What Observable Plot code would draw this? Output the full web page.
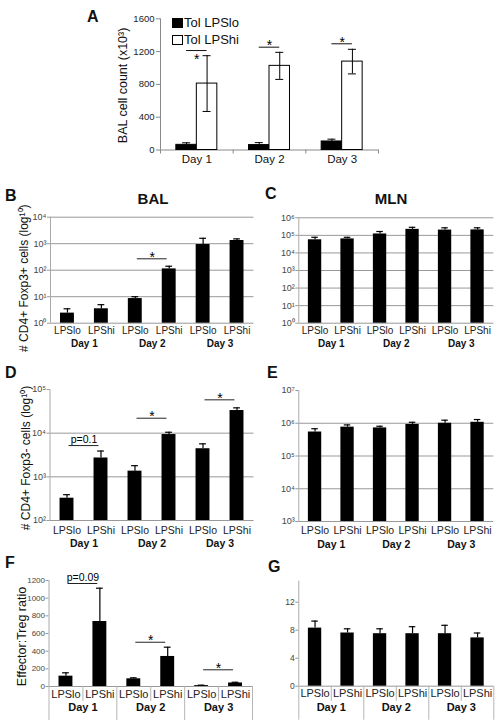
<!DOCTYPE html>
<html><head><meta charset="utf-8">
<script src="https://cdn.jsdelivr.net/npm/d3@7"></script>
<script src="https://cdn.jsdelivr.net/npm/@observablehq/plot@0.6"></script>
<style>
html,body{margin:0;padding:0;background:#fff;}
#fig{position:relative;width:504px;height:721px;overflow:hidden;font-family:"Liberation Sans",Arial,sans-serif;color:#111;background:#fff;}
.abs{position:absolute;white-space:nowrap;}
.letter{font-weight:bold;font-size:16px;line-height:16px;}
.title{font-weight:bold;font-size:15px;line-height:15px;text-align:center;width:100px;}
.leg{font-size:13px;line-height:13px;}
.sq{position:absolute;width:9px;height:8px;border:1px solid #000;}
.plotbox{position:absolute;}
.plotbox svg{overflow:visible;}
</style></head><body><div id="fig"></div>
<script>
// ---------- data ----------
const days = ["Day 1", "Day 2", "Day 3"];
const groups = ["LPSlo", "LPShi"];
const legendA = ["Tol LPSlo", "Tol LPShi"];

// Panel A: BAL cell count (x10^3)
const aTicks = [0, 400, 800, 1200, 1600];
const aLoMean = [63, 60, 104];
const aLoSem = [25, 30, 28];
const aHiMean = [810, 1026, 1078];
const aHiSem = [340, 165, 150];
const aSigLevel = [1213, 1254, 1295];
const aSigLabel = ["*", "*", "*"];

// Panel B: BAL CD4+ Foxp3+
const bTicks = [1, 10, 100, 1000, 10000];
const bGrid = [1, 10, 100, 1000, 10000];
const bMean = [2.4, 3.5, 8.5, 112, 930, 1320];
const bSem = [1.1, 1.5, 1.5, 29, 670, 200];
const bSig = [{from: 2, to: 3, level: 269, label: "*"}];

// Panel C: MLN CD4+ Foxp3+
const cTicks = [1, 10, 100, 1000, 10000, 100000, 1000000];
const cGrid = [1, 10, 100, 1000, 10000, 100000, 1000000];
const cMean = [56000, 63000, 120000, 220000, 200000, 205000];
const cSem = [21600, 14600, 46000, 68000, 69000, 64000];
const cSig = [];

// Panel D: BAL CD4+ Foxp3-
const dTicks = [100, 1000, 10000, 100000];
const dGrid = [100, 1000, 10000];
const dMean = [324, 2700, 1350, 9300, 4400, 33000];
const dSem = [66, 1200, 450, 1200, 1300, 5000];
const dSig = [
  {from: 0, to: 1, level: 5200, label: "p=0.1"},
  {from: 2, to: 3, level: 22000, label: "*"},
  {from: 4, to: 5, level: 58000, label: "*"}
];

// Panel E: MLN CD4+ Foxp3-
const eTicks = [1000, 10000, 100000, 1000000, 10000000];
const eGrid = [1000, 10000, 100000, 1000000];
const eMean = [540000, 760000, 720000, 920000, 1000000, 1070000];
const eSem = [140000, 130000, 90000, 150000, 240000, 230000];
const eSig = [];

// Panel F: BAL Effector:Treg ratio
const fTicks = [0, 200, 400, 600, 800, 1000, 1200];
const fGrid = [0];
const fMean = [117, 736, 87, 340, 10, 40];
const fSem = [38, 377, 11, 105, 5, 8];
const fSig = [
  {from: 0, to: 1, level: 1166, label: "p=0.09"},
  {from: 2, to: 3, level: 501, label: "*"},
  {from: 4, to: 5, level: 189, label: "*"}
];

// Panel G: MLN Effector:Treg ratio
const gTicks = [0, 4, 8, 12];
const gMax = 15;
const gGrid = [0];
const gMean = [8.3, 7.6, 7.5, 7.5, 7.5, 6.9];
const gSem = [1.0, 0.6, 0.7, 1.0, 1.2, 0.7];
const gSig = [];

// ---------- helpers ----------
const FONT = '"Liberation Sans", Arial, sans-serif';
const fig = document.getElementById("fig");
const SUP = "⁰¹²³⁴⁵⁶⁷⁸⁹";
const logFmt = v => "10" + String(Math.round(Math.log10(v))).split("").map(c => SUP[+c]).join("");
const numFmt = v => String(v);

function mount(node, left, top, w) {
  const d = document.createElement("div");
  d.className = "plotbox";
  d.style.left = left + "px"; d.style.top = top + "px"; d.style.width = w + "px";
  d.appendChild(node); fig.appendChild(d);
}
function html(cls, text, left, top, extra) {
  const d = document.createElement("div");
  d.className = "abs " + cls; d.textContent = text;
  d.style.left = left + "px"; d.style.top = top + "px";
  if (extra) Object.assign(d.style, extra);
  fig.appendChild(d);
}
const plotStyle = {fontFamily: FONT, background: "transparent", overflow: "visible", color: "#111"};

function catPanel(c) {
  const n = c.mean.length;
  const rows = c.mean.map((m, i) => ({i, cat: groups[i % 2], mean: m, top: m + c.sem[i]}));
  const base = c.ticks[0];
  const fw = c.width - c.ml - c.mr;
  const bw = 0.41, cap = 0.1, sigInset = 0.06;
  const seps = d3.range(n + 1);
  const marks = [
    Plot.ruleY(c.grid, {y: d => d, stroke: "#999"}),
    Plot.ruleY(c.ticks, {y: d => d, insetLeft: -3, insetRight: fw, stroke: "#999"}),
    Plot.text(c.ticks, {x: 0, y: d => d, text: c.fmt, dx: -4, textAnchor: "end", fontSize: c.tickFont, fill: "#444"}),
    Plot.ruleX([0], {x: d => d, stroke: "#aaa"}),
    Plot.ruleX(seps.filter(k => k % 2 === 0), {x: d => d, y1: base, insetBottom: -34, stroke: "#b5b5b5"}),
    Plot.ruleX(seps.filter(k => k % 2 === 1), {x: d => d, y1: base, insetBottom: -15, stroke: "#b5b5b5"}),
    Plot.rect(rows, {x1: d => d.i + 0.5 - bw / 2, x2: d => d.i + 0.5 + bw / 2, y1: base, y2: "mean", fill: "#000"}),
    Plot.ruleX(rows, {x: d => d.i + 0.5, y1: "mean", y2: "top", stroke: "#000", strokeWidth: 1.2}),
    Plot.ruleY(rows, {y: "top", x1: d => d.i + 0.5 - cap, x2: d => d.i + 0.5 + cap, stroke: "#000", strokeWidth: 1.2}),
    Plot.text(rows, {x: d => d.i + 0.5, y: base, text: "cat", dy: c.catDy, fontSize: c.catFont, fill: "#222"}),
    Plot.text(days, {x: (d, j) => 2 * j + 1, y: base, text: d => d, dy: c.dayDy, fontSize: c.dayFont, fontWeight: "bold", fill: "#111"}),
    Plot.ruleY(c.sig, {y: "level", x1: d => d.from + 0.5 + sigInset, x2: d => d.to + 0.5 - sigInset, stroke: "#222"}),
    Plot.text(c.sig.filter(d => d.label === "*"), {x: d => (d.from + d.to) / 2 + 0.5, y: "level", text: "label", dy: -1.5, fontSize: 14, fill: "#000"}),
    Plot.text(c.sig.filter(d => d.label !== "*"), {x: d => (d.from + d.to) / 2 + 0.5, y: "level", text: "label", dy: -5.5, fontSize: 10.5, fill: "#000"})
  ];
  if (c.ylabel) marks.push(Plot.text([c.ylabel], {frameAnchor: "left", textAnchor: "middle", text: d => d, dx: c.ylabDx, dy: c.ylabDy, rotate: -90, fontSize: c.ylabFont || 12, fill: "#111"}));
  return Plot.plot({
    width: c.width, height: c.height,
    marginLeft: c.ml, marginRight: c.mr, marginTop: c.mt, marginBottom: c.mb,
    x: {domain: [0, n], axis: null},
    y: {type: c.log ? "log" : "linear", domain: [base, c.max], axis: null},
    style: plotStyle,
    marks
  });
}

// ---------- Panel A ----------
(function () {
  const W = 504, H = 170, ml = 160, mr = 126, mt = 18.3, mb = 20.5;
  const fw = W - ml - mr;
  const bw = 0.282, cap = 0.055;
  const lo = aLoMean.map((m, i) => ({i, mean: m, e1: m - aLoSem[i], e2: m + aLoSem[i]}));
  const hi = aHiMean.map((m, i) => ({i, mean: m, e1: m - aHiSem[i], e2: m + aHiSem[i]}));
  const sig = aSigLevel.map((v, i) => ({i, level: v, label: aSigLabel[i]}));
  const starBelow = [true, false, false];
  const node = Plot.plot({
    width: W, height: H, marginLeft: ml, marginRight: mr, marginTop: mt, marginBottom: mb,
    x: {domain: [0, days.length], axis: null},
    y: {domain: [aTicks[0], aTicks[aTicks.length - 1]], axis: null},
    style: plotStyle,
    marks: [
      Plot.ruleY(aTicks, {y: d => d, insetLeft: -4, insetRight: fw, stroke: "#888"}),
      Plot.text(aTicks, {x: 0, y: d => d, text: numFmt, dx: -6, textAnchor: "end", fontSize: 9.5, fill: "#222"}),
      Plot.ruleX(d3.range(days.length + 1), {x: d => d, y1: 0, insetBottom: -4, stroke: "#888"}),
      Plot.ruleY([0], {y: d => d, stroke: "#888"}),
      Plot.ruleX([0], {x: d => d, stroke: "#888"}),
      Plot.rect(lo, {x1: d => d.i + 0.5 - bw, x2: d => d.i + 0.5, y1: 0, y2: "mean", fill: "#000", stroke: "#000"}),
      Plot.rect(hi, {x1: d => d.i + 0.5, x2: d => d.i + 0.5 + bw, y1: 0, y2: "mean", fill: "#fff", stroke: "#000"}),
      Plot.ruleX(lo, {x: d => d.i + 0.5 - bw / 2, y1: "e1", y2: "e2", stroke: "#000"}),
      Plot.ruleY(lo, {y: "e2", x1: d => d.i + 0.5 - bw / 2 - cap, x2: d => d.i + 0.5 - bw / 2 + cap, stroke: "#000"}),
      Plot.ruleX(hi, {x: d => d.i + 0.5 + bw / 2, y1: "e1", y2: "e2", stroke: "#000"}),
      Plot.ruleY(hi, {y: "e2", x1: d => d.i + 0.5 + bw / 2 - cap, x2: d => d.i + 0.5 + bw / 2 + cap, stroke: "#000"}),
      Plot.ruleY(hi, {y: "e1", x1: d => d.i + 0.5 + bw / 2 - cap, x2: d => d.i + 0.5 + bw / 2 + cap, stroke: "#000"}),
      Plot.text(days, {x: (d, i) => i + 0.5, y: 0, text: d => d, dy: 9.5, fontSize: 11.5, fill: "#111"}),
      Plot.ruleY(sig, {y: "level", x1: d => d.i + 0.5 - bw / 2, x2: d => d.i + 0.5 + bw / 2, stroke: "#111"}),
      Plot.text(sig.filter((d, i) => starBelow[i]), {x: d => d.i + 0.5, y: "level", text: "label", dy: 8.5, fontSize: 14, fill: "#000"}),
      Plot.text(sig.filter((d, i) => !starBelow[i]), {x: d => d.i + 0.5, y: "level", text: "label", dy: -1.5, fontSize: 14, fill: "#000"}),
      Plot.text(["BAL cell count (x10³)"], {frameAnchor: "left", textAnchor: "middle", text: d => d, dx: -38, dy: 1, rotate: -90, fontSize: 12.5, fill: "#111"})
    ]
  });
  mount(node, 0, 0, W);
  // legend
  const sq1 = document.createElement("div"); sq1.className = "sq"; sq1.style.left = "172px"; sq1.style.top = "18px"; sq1.style.background = "#000"; fig.appendChild(sq1);
  const sq2 = document.createElement("div"); sq2.className = "sq"; sq2.style.left = "172px"; sq2.style.top = "35px"; sq2.style.background = "#fff"; fig.appendChild(sq2);
  html("leg", legendA[0], 184, 16.3);
  html("leg", legendA[1], 184, 33);
})();

// ---------- Panels B-G ----------
mount(catPanel({width: 260, height: 195, ml: 50, mr: 6.5, mt: 46.7, mb: 42.3, log: true,
  ticks: bTicks, grid: bGrid, max: bTicks[bTicks.length - 1], fmt: logFmt, mean: bMean, sem: bSem, sig: bSig,
  ylabel: "# CD4+ Foxp3+ cells (log¹⁰)", ylabDx: -26, ylabDy: 8, catDy: 7.5, dayDy: 20.6, catFont: 10, dayFont: 10, tickFont: 9}), 0, 170, 260);

mount(catPanel({width: 244, height: 195, ml: 38.3, mr: 10.7, mt: 47.3, mb: 42.3, log: true,
  ticks: cTicks, grid: cGrid, max: cTicks[cTicks.length - 1], fmt: logFmt, mean: cMean, sem: cSem, sig: cSig,
  catDy: 7.5, dayDy: 20.6, catFont: 10, dayFont: 10, tickFont: 9}), 260, 170, 244);

mount(catPanel({width: 260, height: 185, ml: 49.5, mr: 6.5, mt: 24, mb: 30, log: true,
  ticks: dTicks, grid: dGrid, max: dTicks[dTicks.length - 1], fmt: logFmt, mean: dMean, sem: dSem, sig: dSig,
  ylabel: "# CD4+ Foxp3- cells (log¹⁰)", ylabDx: -24, ylabDy: 3, catDy: 10, dayDy: 23, catFont: 10.5, dayFont: 10.5, tickFont: 9}), 0, 365, 260);

mount(catPanel({width: 244, height: 185, ml: 38.3, mr: 10.7, mt: 25, mb: 29, log: true,
  ticks: eTicks, grid: eGrid, max: eTicks[eTicks.length - 1], fmt: logFmt, mean: eMean, sem: eSem, sig: eSig,
  catDy: 9, dayDy: 22.7, catFont: 10.5, dayFont: 10.5, tickFont: 9}), 260, 365, 244);

mount(catPanel({width: 260, height: 176, ml: 48.5, mr: 8, mt: 35, mb: 35, log: false,
  ticks: fTicks, grid: fGrid, max: fTicks[fTicks.length - 1], fmt: numFmt, mean: fMean, sem: fSem, sig: fSig,
  ylabel: "Effector:Treg ratio", ylabDx: -27.5, ylabDy: 3, ylabFont: 12.5, catDy: 7.5, dayDy: 21, catFont: 11, dayFont: 11, tickFont: 8}), 0, 545, 260);

mount(catPanel({width: 244, height: 176, ml: 38.3, mr: 10.7, mt: 35.7, mb: 35.3, log: false,
  ticks: gTicks, grid: gGrid, max: gMax, fmt: numFmt, mean: gMean, sem: gSem, sig: gSig,
  catDy: 7.5, dayDy: 21.3, catFont: 11, dayFont: 11, tickFont: 8.5}), 260, 545, 244);

// ---------- letters and titles ----------
html("letter", "A", 87, 8.5);
html("letter", "B", 5, 188);
html("letter", "C", 265, 185.5);
html("letter", "D", 5, 364.5);
html("letter", "E", 267, 364.5);
html("letter", "F", 5, 554.5);
html("letter", "G", 268, 558.5);
html("title", "BAL", 103, 190.6);
html("title", "MLN", 341, 190.6);
</script></body></html>
